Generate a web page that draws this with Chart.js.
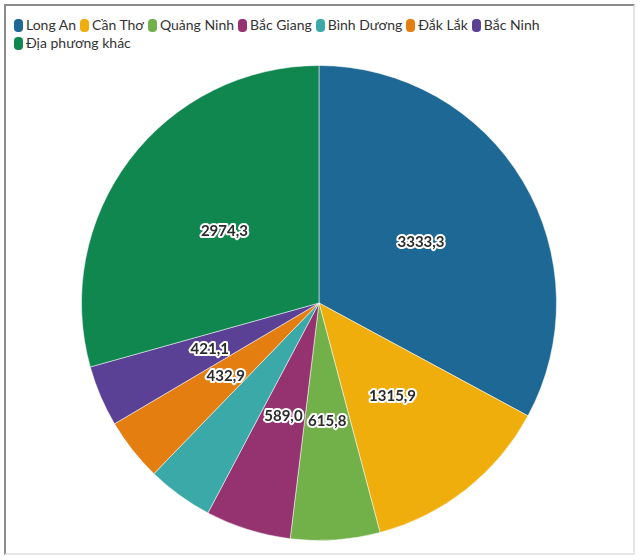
<!DOCTYPE html>
<html>
<head>
<meta charset="utf-8">
<script src="https://cdn.jsdelivr.net/npm/chart.js@4"></script>
<style>
	html, body { margin: 0; padding: 0; background: #fff; }
	body { width: 640px; height: 560px; position: relative; overflow: hidden; font-family: Lato, "Noto Sans", sans-serif; }
	#frame {
		position: absolute; left: 4px; top: 4px; width: 627px; height: 547px;
		border-top: 2px solid #8c8c8c; border-left: 2px solid #8c8c8c;
		border-right: 2px solid #e6e6e6; border-bottom: 2px solid #e6e6e6;
	}
	#legend { position: absolute; left: 14px; top: 16px; width: 580px; font-size: 14px; color: #333; line-height: 18px; }
	#legend .item { display: inline-block; margin-right: 4px; white-space: nowrap; }
	#legend .box { display: inline-block; width: 9px; height: 13px; border-radius: 4px; vertical-align: -2px; margin-right: 3px; }
	#wrap { position: absolute; left: 81px; top: 65px; width: 476px; height: 476px; }
</style>
</head>
<body>
<div id="frame"></div>
<div id="legend"></div>
<div id="wrap"><canvas id="myChart"></canvas></div>
<script>
	// du lieu bieu do
	const provinces = ['Long An', 'Cần Thơ', 'Quảng Ninh', 'Bắc Giang', 'Bình Dương', 'Đắk Lắk', 'Bắc Ninh', 'Địa phương khác'];
	const values = [3333.3, 1315.9, 615.8, 589.0, 455.0, 432.9, 421.1, 2974.3];
	const colors = ['#1d6894', '#f0ae0d', '#72b04a', '#953270', '#3aa9a8', '#e47e10', '#5a4196', '#10874f'];
	const showLabel = [true, true, true, true, false, true, true, true];

	// chu thich
	const legend = document.getElementById('legend');
	provinces.forEach((name, i) => {
		const item = document.createElement('span');
		item.className = 'item';
		item.innerHTML = '<span class="box" style="background:' + colors[i] + '"></span>' + name;
		legend.appendChild(item);
	});

	// ve nhan gia tri giua moi lat cat
	const valueLabels = {
		id: 'valueLabels',
		afterDatasetsDraw(chart) {
			const ctx = chart.ctx;
			const meta = chart.getDatasetMeta(0);
			ctx.save();
			ctx.font = 'bold 15px Lato, "Noto Sans", sans-serif';
			ctx.textAlign = 'center';
			ctx.textBaseline = 'middle';
			ctx.lineJoin = 'round';
			meta.data.forEach((arc, i) => {
				if (!showLabel[i]) return;
				const pos = arc.tooltipPosition();
				const text = values[i].toFixed(1).replace('.', ',');
				ctx.lineWidth = 4;
				ctx.strokeStyle = '#fff';
				ctx.strokeText(text, pos.x, pos.y);
				ctx.fillStyle = '#2b2b2b';
				ctx.fillText(text, pos.x, pos.y);
			});
			ctx.restore();
		}
	};

	var ctx = document.getElementById('myChart').getContext('2d');
	new Chart(ctx, {
		type: 'pie',
		data: {
			labels: provinces,
			datasets: [{
				data: values,
				backgroundColor: colors,
				borderColor: 'rgba(255,255,255,0.5)',
				borderWidth: 1,
			}],
		},
		options: {
			responsive: true,
			maintainAspectRatio: false,
			animation: false,
			layout: { padding: 0 },
			plugins: {
				legend: { display: false },
				tooltip: { enabled: false },
			},
		},
		plugins: [valueLabels],
	});
</script>
</body>
</html>
